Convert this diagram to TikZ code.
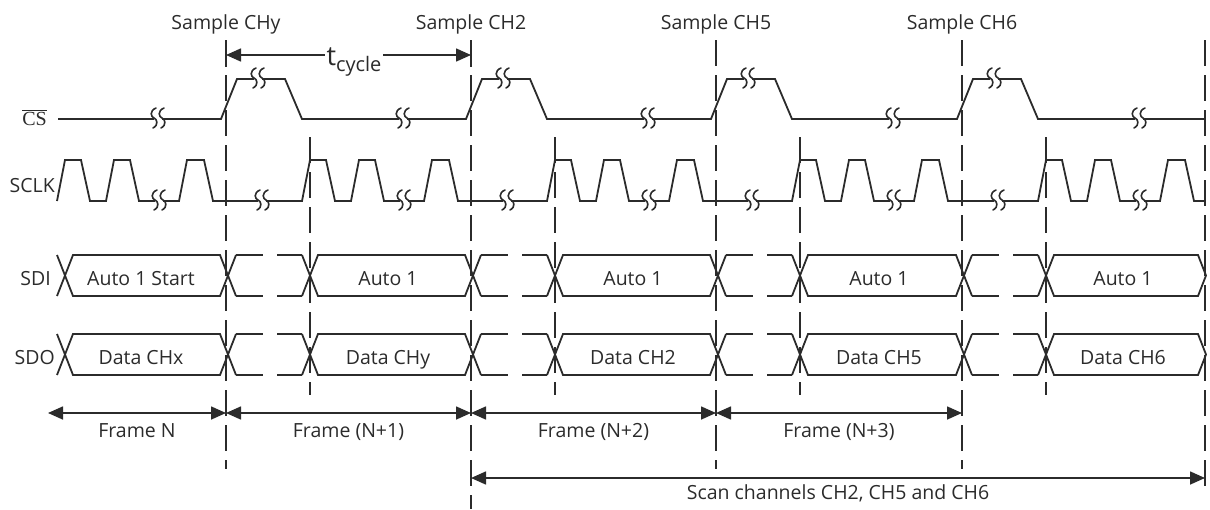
\documentclass[tikz,border=0pt]{standalone}
\usepackage{fontspec}
\setmainfont{Open Sans}
\newfontfamily\csfont{Liberation Serif}
\usetikzlibrary{arrows.meta}
\definecolor{ink}{HTML}{2B2B2B}
\tikzset{
  wave/.style={line width=1.8pt, draw=ink, line join=miter, miter limit=4},
  guide/.style={line width=1.6pt, draw=ink, dash pattern=on 26pt off 9pt},
  dimline/.style={line width=1.6pt, draw=ink, {Triangle[length=15pt,width=13pt]}-{Triangle[length=15pt,width=13pt]}},
  lbl/.style={font=\fontsize{19.5}{22}\selectfont, text=ink, inner sep=0pt},
  brkstroke/.style={line width=1.6pt, draw=ink, line cap=round},
  brk/.pic={
    \fill[white] (-4,-2.5) rectangle (4,2.5);
    \foreach \dx in {-4,4} {
      \draw[brkstroke] (\dx+2,-11) .. controls (\dx-5,-8) and (\dx-3,-2) .. (\dx,-1)
                       .. controls (\dx+3,0) and (\dx+5,6) .. (\dx-1,9);
    }
  }
}
\begin{document}
\begin{tikzpicture}[x=1pt,y=-1pt]
\useasboundingbox (0,0) rectangle (1210,509);

% frame boundary guides
\foreach \d/\e [count=\i] in {226/469,471/509,716/469,962/469,1205/490} {
  \coordinate (gt\i) at (\d,40);
  \coordinate (gb\i) at (\d,\e);
  \draw[guide] (gt\i) -- (gb\i);
}
% clock start guides
\foreach \s [count=\i] in {310,555,800,1046} {
  \coordinate (st\i) at (\s,137);
  \coordinate (sb\i) at (\s,395);
  \draw[guide] (st\i) -- (sb\i);
}

% signal names
\node[lbl, anchor=base east] (cs) at (47,125) {\csfont\fontsize{20}{22}\selectfont$\overline{\hbox{CS}}$};
\node[lbl, anchor=base east] (sclk) at (55,192) {SCLK};
\node[lbl, anchor=base east] (sdi) at (51,285) {SDI};
\node[lbl, anchor=base east] (sdo) at (55,364) {SDO};

% CS
\draw[wave] (58,119) foreach \d in {226,471,716,962} { -- (\d-5,119) -- (\d+11,79) -- (\d+59,79) -- (\d+76,119) } -- (1205,119);
\foreach \d in {226,471,716,962} \pic at (\d+32,79) {brk};
\foreach \x in {158,403,648,893,1139} \pic at (\x,119) {brk};

% SCLK
\draw[wave] (57,201) foreach \s in {65,310,555,800,1046} { -- (\s-8,201) -- (\s,160) -- (\s+16,160) -- (\s+25,201) -- (\s+41,201) -- (\s+49,160) -- (\s+65,160) -- (\s+74,201) -- (\s+114,201) -- (\s+122,160) -- (\s+139,160) -- (\s+148,201) } -- (1205,201);
\foreach \s in {65,310,555,800,1046} \pic at (\s+94,201) {brk};
\foreach \d in {226,471,716,962} \pic at (\d+36,201) {brk};

% SDI / SDO buses
\foreach \t/\b/\m in {255/296/275.5, 334/375/354.5} {
  \foreach \s/\dn in {65/226,310/471,555/716,800/962} {
    \draw[wave] (\s-8,\b) -- (\s+8,\t) -- (\dn-6,\t) -- (\dn+10,\b);
    \draw[wave] (\s-8,\t) -- (\s+8,\b) -- (\dn-6,\b) -- (\dn+10,\t);
  }
  \foreach \dn/\sn in {226/310,471/555,716/800,962/1046} {
    \draw[wave] (\dn+10,\t) -- (\dn+37,\t) (\dn+51,\t) -- (\sn-8,\t);
    \draw[wave] (\dn+10,\b) -- (\dn+37,\b) (\dn+51,\b) -- (\sn-8,\b);
  }
  \draw[wave] (1038,\b) -- (1054,\t) -- (1198,\t) -- (1206,\m) -- (1198,\b) -- (1054,\b) -- (1038,\t);
}
\node[lbl, anchor=base] (sdi1) at (141,285) {Auto 1 Start};
\node[lbl, anchor=base] (sdi2) at (388,285) {Auto 1};
\node[lbl, anchor=base] (sdi3) at (633,285) {Auto 1};
\node[lbl, anchor=base] (sdi4) at (879,285) {Auto 1};
\node[lbl, anchor=base] (sdi5) at (1123,285) {Auto 1};
\node[lbl, anchor=base] (sdo1) at (141,364) {Data CHx};
\node[lbl, anchor=base] (sdo2) at (388,364) {Data CHy};
\node[lbl, anchor=base] (sdo3) at (633,364) {Data CH2};
\node[lbl, anchor=base] (sdo4) at (879,364) {Data CH5};
\node[lbl, anchor=base] (sdo5) at (1123,364) {Data CH6};

% sample labels
\node[lbl, anchor=base] (smp1) at (226,29) {Sample CHy};
\node[lbl, anchor=base] (smp2) at (471,29) {Sample CH2};
\node[lbl, anchor=base] (smp3) at (716,29) {Sample CH5};
\node[lbl, anchor=base] (smp4) at (962,29) {Sample CH6};

% t_cycle
\coordinate (tcl) at (226,55);
\coordinate (tcr) at (471,55);
\draw[wave] (226,46) -- (226,67) (471,46) -- (471,67);
\draw[dimline] (tcl) -- (tcr);
\node[lbl, anchor=base, fill=white, inner sep=1.5pt] (tc) at (354,65) {\fontsize{27}{30}\selectfont t\raisebox{-6pt}{\fontsize{20}{22}\selectfont cycle}};

% frame arrows
\foreach \a/\b [count=\i] in {48/226,226/471,471/716,716/962} {
  \coordinate (fl\i) at (\a,413);
  \coordinate (fr\i) at (\b,413);
  \draw[dimline] (fl\i) -- (fr\i);
}
\node[lbl, anchor=base] (fn0) at (137,437) {Frame N};
\node[lbl, anchor=base] (fn1) at (348.5,437) {Frame (N+1)};
\node[lbl, anchor=base] (fn2) at (593.5,437) {Frame (N+2)};
\node[lbl, anchor=base] (fn3) at (839,437) {Frame (N+3)};

% scan arrow
\coordinate (scl) at (471,478);
\coordinate (scr) at (1205,478);
\draw[dimline] (scl) -- (scr);
\node[lbl, anchor=base] (scan) at (838,499) {Scan channels CH2, CH5 and CH6};
\end{tikzpicture}
\end{document}
